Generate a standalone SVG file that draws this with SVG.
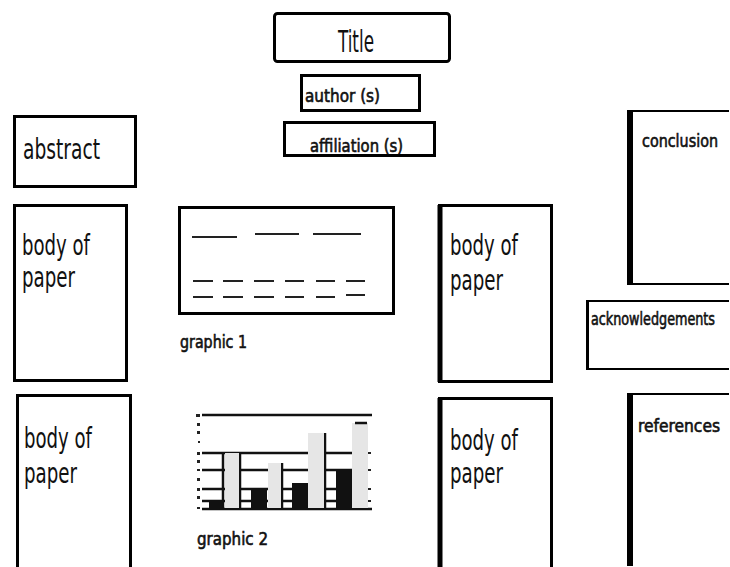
<svg xmlns="http://www.w3.org/2000/svg" width="730" height="567" viewBox="0 0 730 567">
<style>
.box{fill:#fff;stroke:#000;stroke-width:3}
.open{fill:#fff;stroke:#000;stroke-width:2}
.lbl{font-family:"DejaVu Sans Condensed","Liberation Sans",sans-serif;fill:#111}
.big{font-size:28px}
.sm{font-size:18px;stroke:#111;stroke-width:0.6}
.ln{stroke:#222;stroke-width:2}
.gl{stroke:#111;stroke-width:2.5}
</style>
<rect width="730" height="567" fill="#fff"/>
<g id="title">
<rect class="box" x="274.5" y="13.5" width="175" height="48" rx="3"/>
<text class="lbl" x="338" y="52" font-size="30" textLength="36" lengthAdjust="spacingAndGlyphs">Title</text>
</g>
<g id="author">
<rect class="box" x="301.5" y="75.5" width="118" height="35"/>
<text class="lbl sm" x="305" y="102" font-size="19" textLength="75" lengthAdjust="spacingAndGlyphs">author (s)</text>
</g>
<g id="affiliation">
<rect class="box" x="284.5" y="122.5" width="150" height="33"/>
<text class="lbl sm" x="310" y="152" font-size="23" textLength="93" lengthAdjust="spacingAndGlyphs">affiliation (s)</text>
</g>
<g id="abstract">
<rect class="box" x="14.5" y="116.5" width="121" height="70" stroke-width="3.5"/>
<text class="lbl big" x="23" y="159" textLength="77" lengthAdjust="spacingAndGlyphs">abstract</text>
</g>
<g id="body1">
<rect class="box" x="14.5" y="205.5" width="112" height="175"/>
<text class="lbl big" x="22" y="255" textLength="68" lengthAdjust="spacingAndGlyphs">body of</text>
<text class="lbl big" x="22" y="287" textLength="53" lengthAdjust="spacingAndGlyphs">paper</text>
</g>
<g id="body2">
<path class="box" d="M17.5 567 V395.5 H130.5 V567"/>
<text class="lbl big" x="24" y="448" textLength="68" lengthAdjust="spacingAndGlyphs">body of</text>
<text class="lbl big" x="24" y="483" textLength="53" lengthAdjust="spacingAndGlyphs">paper</text>
</g>
<g id="graphic1">
<rect class="box" x="179.5" y="207.5" width="214" height="106" stroke-width="3.5"/>
<line class="ln" x1="192" y1="237" x2="237" y2="237"/>
<line class="ln" x1="255" y1="234" x2="299" y2="234"/>
<line class="ln" x1="313" y1="234" x2="361" y2="234"/>
<g class="ln">
<line x1="193" y1="281" x2="213" y2="281"/><line x1="223" y1="281" x2="243" y2="281"/><line x1="254" y1="281" x2="274" y2="281"/><line x1="285" y1="281" x2="304" y2="281"/><line x1="316" y1="281" x2="335" y2="281"/><line x1="346" y1="281" x2="365" y2="281"/>
<line x1="193" y1="297" x2="213" y2="297"/><line x1="223" y1="297" x2="243" y2="297"/><line x1="254" y1="297" x2="274" y2="297"/><line x1="285" y1="297" x2="304" y2="297"/><line x1="316" y1="297" x2="335" y2="297"/><line x1="346" y1="295" x2="365" y2="295"/>
</g>
<text class="lbl sm" x="180" y="348" textLength="67" lengthAdjust="spacingAndGlyphs">graphic 1</text>
</g>
<g id="graphic2">
<g class="gl">
<line x1="202" y1="415" x2="372" y2="415"/>
<line x1="202" y1="453" x2="368" y2="453"/>
<line x1="202" y1="470" x2="368" y2="470"/>
<line x1="202" y1="489" x2="368" y2="489"/>
<line x1="202" y1="501" x2="368" y2="501"/>
<line x1="202" y1="509" x2="372" y2="509"/>
<line x1="223" y1="453" x2="223" y2="509"/>
<line x1="240" y1="453" x2="240" y2="509"/>
<line x1="282" y1="463" x2="282" y2="509"/>
<line x1="325" y1="433" x2="325" y2="509"/>
</g>
<g fill="#e6e6e6">
<rect x="225" y="453" width="14" height="55"/>
<rect x="268" y="463" width="13" height="45"/>
<rect x="308" y="433" width="16" height="75"/>
<rect x="352" y="423" width="16" height="85"/>
</g>
<g fill="#111">
<rect x="209" y="501" width="15" height="8"/>
<rect x="251" y="489" width="16" height="20"/>
<rect x="292" y="483" width="16" height="26"/>
<rect x="336" y="470" width="16" height="39"/>
</g>
<line class="gl" x1="355" y1="423" x2="367" y2="423"/>
<g fill="#222">
<rect x="196" y="414" width="4" height="3"/><rect x="197" y="423" width="3" height="3"/><rect x="197" y="431" width="3" height="3"/><rect x="198" y="441" width="2" height="2"/><rect x="197" y="452" width="3" height="3"/><rect x="197" y="460" width="3" height="3"/><rect x="197" y="469" width="3" height="2"/><rect x="197" y="478" width="3" height="3"/><rect x="197" y="488" width="3" height="3"/><rect x="197" y="496" width="3" height="3"/><rect x="197" y="507" width="3" height="2"/>
<rect x="368" y="452" width="3" height="2"/><rect x="368" y="469" width="3" height="2"/><rect x="368" y="488" width="3" height="2"/><rect x="368" y="500" width="3" height="2"/>
</g>
<text class="lbl sm" x="197" y="545" textLength="71" lengthAdjust="spacingAndGlyphs">graphic 2</text>
</g>
<g id="body3">
<rect class="box" x="439.5" y="205.5" width="112" height="176"/>
<line x1="440" y1="205" x2="440" y2="382" stroke="#000" stroke-width="5"/>
<text class="lbl big" x="450" y="255" textLength="68" lengthAdjust="spacingAndGlyphs">body of</text>
<text class="lbl big" x="450" y="290" textLength="53" lengthAdjust="spacingAndGlyphs">paper</text>
</g>
<g id="body4">
<path class="box" d="M439.5 567 V398.5 H551.5 V567"/>
<line x1="440" y1="398" x2="440" y2="567" stroke="#000" stroke-width="5"/>
<text class="lbl big" x="450" y="450" textLength="68" lengthAdjust="spacingAndGlyphs">body of</text>
<text class="lbl big" x="450" y="483" textLength="53" lengthAdjust="spacingAndGlyphs">paper</text>
</g>
<g id="conclusion">
<path class="open" d="M729 111 H628.5 V284 H729"/>
<line x1="630" y1="110" x2="630" y2="285" stroke="#000" stroke-width="6"/>
<text class="lbl sm" x="642" y="147" font-size="17" textLength="76" lengthAdjust="spacingAndGlyphs">conclusion</text>
</g>
<g id="acknowledgements">
<path class="open" d="M729 301 H587 V369 H729"/>
<line x1="587.5" y1="300" x2="587.5" y2="370" stroke="#000" stroke-width="3"/>
<text class="lbl sm" x="591" y="325" font-size="13" textLength="124" lengthAdjust="spacingAndGlyphs">acknowledgements</text>
</g>
<g id="references">
<path class="open" d="M729 394 H628.5 V566"/>
<line x1="630" y1="393" x2="630" y2="566" stroke="#000" stroke-width="6"/>
<text class="lbl sm" x="638" y="432" font-size="17" textLength="82" lengthAdjust="spacingAndGlyphs">references</text>
</g>
<g id="connectors"/>
</svg>
